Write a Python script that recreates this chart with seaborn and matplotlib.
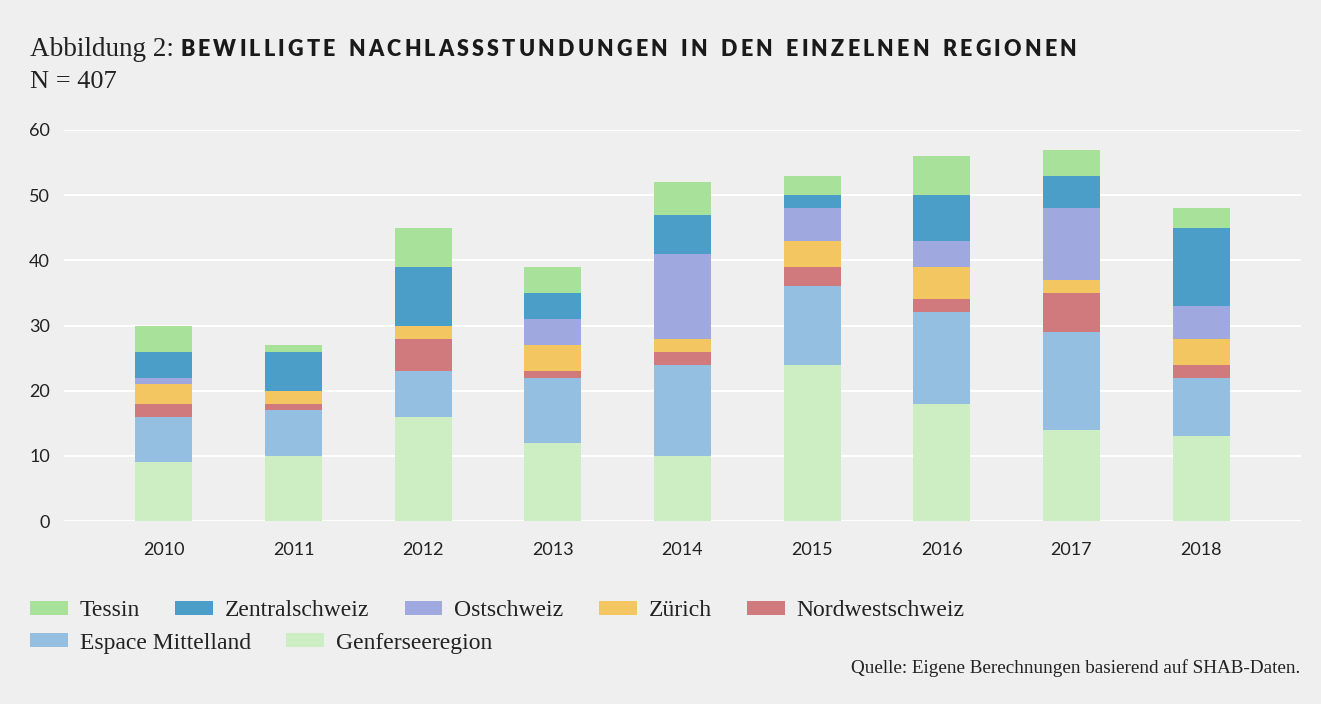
import matplotlib
matplotlib.use("Agg")
import matplotlib.pyplot as plt
import seaborn as sns
import pandas as pd
import numpy as np

years = ["2010", "2011", "2012", "2013", "2014", "2015", "2016", "2017", "2018"]
genferseeregion = [9, 10, 16, 12, 10, 24, 18, 14, 13]
espace_mittelland = [7, 7, 7, 10, 14, 12, 14, 15, 9]
nordwestschweiz = [2, 1, 5, 1, 2, 3, 2, 6, 2]
zuerich = [3, 2, 2, 4, 2, 4, 5, 2, 4]
ostschweiz = [1, 0, 0, 4, 13, 5, 4, 11, 5]
zentralschweiz = [4, 6, 9, 4, 6, 2, 7, 5, 12]
tessin = [4, 1, 6, 4, 5, 3, 6, 4, 3]

series_names = ["Genferseeregion", "Espace Mittelland", "Nordwestschweiz", "Zürich",
                "Ostschweiz", "Zentralschweiz", "Tessin"]
series_vals = [genferseeregion, espace_mittelland, nordwestschweiz, zuerich,
               ostschweiz, zentralschweiz, tessin]
colors = {"Genferseeregion": "#cdeec2", "Espace Mittelland": "#95bfe0",
          "Nordwestschweiz": "#d07a7d", "Zürich": "#f3c662",
          "Ostschweiz": "#a0a8e0", "Zentralschweiz": "#4a9ec8", "Tessin": "#a8e19a"}

BG = "#efefef"
sns.set_theme(style="white")
serif = ["Liberation Serif", "DejaVu Serif"]
sans = ["Lato", "DejaVu Sans"]
W, H = 1321, 704

fig = plt.figure(figsize=(W / 100, H / 100), dpi=100, facecolor=BG)
ax = fig.add_axes([64 / W, (H - 521) / H, (1301 - 64) / W, (521 - 130) / H])
ax.set_facecolor(BG)

cum = np.cumsum(np.array(series_vals), axis=0)
for i in range(len(series_names) - 1, -1, -1):
    name = series_names[i]
    df = pd.DataFrame({"year": years, "value": cum[i]})
    sns.barplot(data=df, x="year", y="value", color=colors[name], width=0.44,
                ax=ax, saturation=1, linewidth=0, label=name, zorder=3)

ax.set_xlim(-0.77, 8.77)
ax.set_ylim(0, 60)
ax.set_yticks(range(0, 61, 10))
ax.grid(axis="y", color="white", linewidth=1.5, zorder=0)
ax.set_axisbelow(True)
for s in ax.spines.values():
    s.set_visible(False)
ax.set_xlabel("")
ax.set_ylabel("")
ax.tick_params(axis="both", length=0, labelsize=13, colors="#222222")
ax.tick_params(axis="x", pad=15)
ax.tick_params(axis="y", pad=10)
for lbl in ax.get_xticklabels() + ax.get_yticklabels():
    lbl.set_family(sans)

h, l = ax.get_legend_handles_labels()
hd = dict(zip(l, h))
row1 = ["Tessin", "Zentralschweiz", "Ostschweiz", "Zürich", "Nordwestschweiz"]
row2 = ["Espace Mittelland", "Genferseeregion"]
common = dict(frameon=False, handlelength=1.6, handleheight=0.5, handletextpad=0.5,
              columnspacing=1.5, borderpad=0, borderaxespad=0,
              prop={"family": serif, "size": 17}, labelcolor="#222222")
fig.legend([hd[n] for n in row1], row1, ncol=5, loc="center left",
           bbox_to_anchor=(30 / W, 1 - 611 / H), **common)
fig.legend([hd[n] for n in row2], row2, ncol=2, loc="center left",
           bbox_to_anchor=(30 / W, 1 - 643 / H), **common)
if ax.get_legend():
    ax.get_legend().remove()

renderer = fig.canvas.get_renderer()
t1 = fig.text(30 / W, 1 - 49 / H, "Abbildung 2:", family=serif, fontsize=19.5,
              color="#222222", va="center", ha="left")
bb = t1.get_window_extent(renderer=renderer)

# bold title with letter spacing (tracking), drawn character by character
title = "BEWILLIGTE NACHLASSSTUNDUNGEN IN DEN EINZELNEN REGIONEN"
x = bb.x1 + 6
tracking = 3.2
for ch in title:
    if ch == " ":
        x += 7 + tracking
        continue
    t = fig.text(x / W, 1 - 49 / H, ch, family=["Lato", "DejaVu Sans"], fontweight="heavy",
                 fontsize=15.5, color="#1a1a1a", va="center", ha="left")
    x = t.get_window_extent(renderer=renderer).x1 + tracking

fig.text(30 / W, 1 - 82 / H, "N = 407", family=serif, fontsize=19,
         color="#222222", va="center", ha="left")
fig.text(1300 / W, 1 - 668 / H, "Quelle: Eigene Berechnungen basierend auf SHAB-Daten.",
         family=serif, fontsize=13.8, color="#222222", va="center", ha="right")

fig.savefig("out.png", dpi=100, facecolor=BG)
